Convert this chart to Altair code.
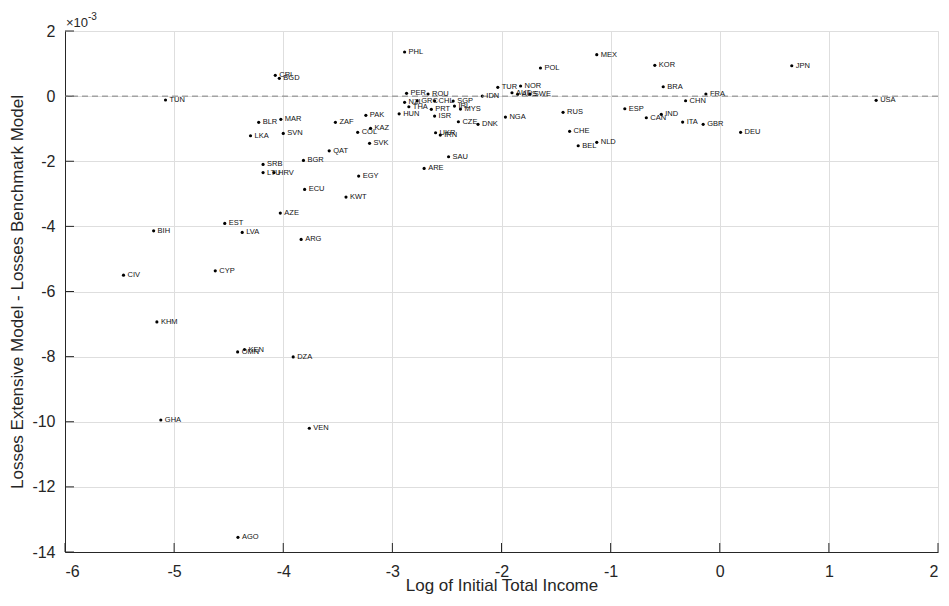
import altair as alt
import pandas as pd

countries = ["PHL", "POL", "MEX", "KOR", "JPN", "BRA", "FRA", "CHN", "USA", "ESP",
             "IND", "CAN", "ITA", "GBR", "DEU", "NLD", "BEL", "CHE", "RUS", "NGA",
             "TUR", "NOR", "AUT", "AUS", "SWE", "IDN", "DNK", "CZE", "SAU", "ARE",
             "UKR", "IRN", "ISR", "PRT", "MYS", "IRL", "SGP", "CHL", "GRC", "NZL",
             "THA", "PER", "ROU", "HUN", "PAK", "KAZ", "COL", "SVK", "ZAF", "QAT",
             "BGR", "EGY", "ECU", "KWT", "AZE", "ARG", "EST", "LVA", "BIH", "CYP",
             "CIV", "KHM", "OMN", "KEN", "DZA", "GHA", "VEN", "AGO", "TUN", "CRI",
             "BGD", "BLR", "MAR", "LKA", "SVN", "SRB", "LTU", "HRV"]

log_income = [-2.888, -1.643, -1.127, -0.595, 0.660, -0.518, -0.127, -0.313, 1.433, -0.870,
              -0.536, -0.673, -0.340, -0.152, 0.191, -1.127, -1.297, -1.376, -1.436, -1.964,
              -2.034, -1.825, -1.904, -1.852, -1.740, -2.176, -2.215, -2.395, -2.485, -2.709,
              -2.604, -2.561, -2.613, -2.643, -2.376, -2.431, -2.443, -2.613, -2.773, -2.888,
              -2.849, -2.870, -2.673, -2.938, -3.243, -3.200, -3.318, -3.209, -3.522, -3.579,
              -3.815, -3.309, -3.804, -3.425, -4.027, -3.836, -4.536, -4.376, -5.188, -4.623,
              -5.464, -5.158, -4.418, -4.355, -3.909, -5.122, -3.761, -4.415, -5.079, -4.073,
              -4.036, -4.225, -4.022, -4.300, -4.000, -4.185, -4.185, -4.085]

# Losses Extensive Model - Losses Benchmark Model, in units of 1e-3
loss_diff = [1.355, 0.863, 1.272, 0.946, 0.934, 0.288, 0.064, -0.142, -0.130, -0.388,
             -0.560, -0.664, -0.797, -0.867, -1.113, -1.420, -1.525, -1.082, -0.498, -0.643,
             0.270, 0.310, 0.104, 0.055, 0.064, 0.002, -0.867, -0.787, -1.863, -2.219,
             -1.125, -1.196, -0.612, -0.406, -0.397, -0.305, -0.151, -0.142, -0.151, -0.191,
             -0.326, 0.085, 0.064, -0.545, -0.591, -0.990, -1.113, -1.451, -0.806, -1.679,
             -1.974, -2.456, -2.865, -3.101, -3.593, -4.401, -3.910, -4.186, -4.137, -5.366,
             -5.498, -6.934, -7.856, -7.782, -8.009, -9.945, -10.200, -13.550, -0.120, 0.639,
             0.546, -0.806, -0.714, -1.218, -1.144, -2.096, -2.349, -2.349]

x_ticks = [-6, -5, -4, -3, -2, -1, 0, 1, 2]
y_ticks = [-14, -12, -10, -8, -6, -4, -2, 0, 2]

FONT = "Liberation Sans"
AX = "#262626"
GRID = "#dedede"
W, H = 873, 521

df = pd.DataFrame({"country": countries, "x": log_income, "y": loss_diff})
xs = alt.Scale(domain=[-6, 2], nice=False, zero=False)
ys = alt.Scale(domain=[-14, 2], nice=False, zero=False)

x_axis = alt.Axis(title="Log of Initial Total Income", values=x_ticks,
                  labelExpr="'' + datum.value", ticks=False, labelPadding=11,
                  titlePadding=-2, grid=True)
y_axis = alt.Axis(title="Losses Extensive Model - Losses Benchmark Model",
                  values=y_ticks, labelExpr="'' + datum.value", ticks=False,
                  labelPadding=10, titlePadding=5, grid=True)

X = alt.X("x:Q", scale=xs, axis=x_axis)
Y = alt.Y("y:Q", scale=ys, axis=y_axis)

base = alt.Chart(df)

points = base.mark_circle(size=10, color="black", opacity=1).encode(x=X, y=Y)

labels = base.mark_text(align="left", baseline="middle", dx=4, fontSize=7.5,
                        font=FONT, color="#111111").encode(
    x=X, y=Y, text="country:N")

zero_line = alt.Chart(pd.DataFrame({"y": [0]})).mark_rule(
    strokeDash=[6, 4], color="#808080", strokeWidth=1).encode(y=Y)

xtick_rules = alt.Chart(pd.DataFrame({"x": x_ticks})).mark_rule(
    color=AX, strokeWidth=1).encode(
    x=X, y=alt.value(H), y2=alt.value(H - 9))

ytick_rules = alt.Chart(pd.DataFrame({"y": y_ticks})).mark_rule(
    color=AX, strokeWidth=1).encode(
    y=Y, x=alt.value(0), x2=alt.value(9))

exp_base = alt.Chart(pd.DataFrame({"t": ["×10"]})).mark_text(
    align="left", baseline="alphabetic", fontSize=13, font=FONT, color=AX).encode(
    x=alt.value(1), y=alt.value(-4), text="t:N")
exp_sup = alt.Chart(pd.DataFrame({"t": ["-3"]})).mark_text(
    align="left", baseline="alphabetic", fontSize=10, font=FONT, color=AX).encode(
    x=alt.value(23), y=alt.value(-11), text="t:N")

chart = alt.layer(
    points, xtick_rules, ytick_rules, zero_line, labels, exp_base, exp_sup
).properties(
    width=W, height=H,
    background="white",
    autosize=alt.AutoSizeParams(type="none"),
    padding={"left": 57, "top": 23, "right": 3, "bottom": 46},
).configure_view(
    stroke=GRID, strokeWidth=1
).configure_axis(
    gridColor=GRID, gridWidth=1, domainColor=AX, domainWidth=1,
    labelColor=AX, titleColor=AX, labelFont=FONT, titleFont=FONT,
    labelFontSize=16, titleFontSize=17, titleFontWeight="normal",
)

chart.save("out.html", embed_options={"renderer": "svg", "actions": False})
